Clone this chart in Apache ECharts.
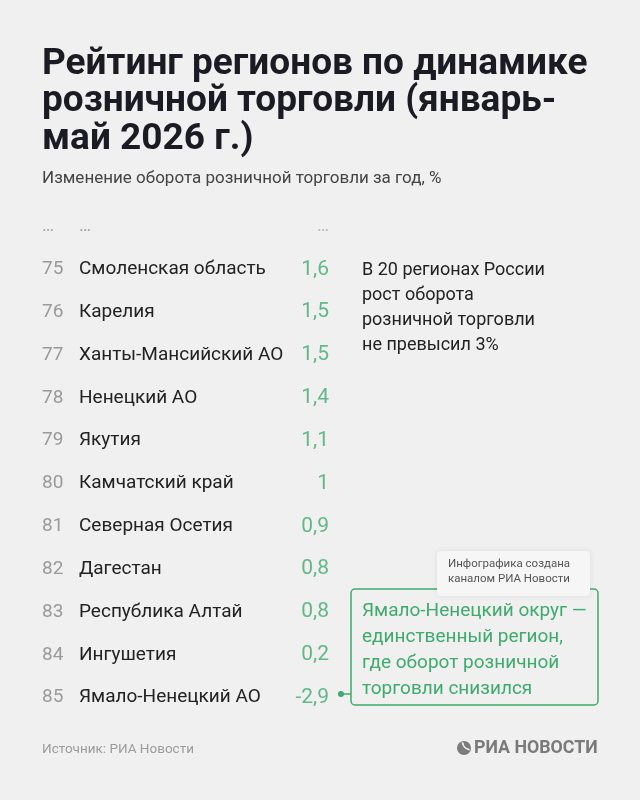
<!DOCTYPE html>
<html>
<head>
<meta charset="utf-8">
<script src="https://cdn.jsdelivr.net/npm/echarts@6/dist/echarts.min.js"></script>
<style>
  html, body { margin: 0; padding: 0; background: #f0f0f0; }
  #chart { width: 640px; height: 800px; }
</style>
</head>
<body>
<div id="chart"></div>
<script>
// данные рейтинга
var ranks = [75, 76, 77, 78, 79, 80, 81, 82, 83, 84, 85];
var regions = ['Смоленская область', 'Карелия', 'Ханты-Мансийский АО', 'Ненецкий АО', 'Якутия',
    'Камчатский край', 'Северная Осетия', 'Дагестан', 'Республика Алтай', 'Ингушетия', 'Ямало-Ненецкий АО'];
var values = [1.6, 1.5, 1.5, 1.4, 1.1, 1, 0.9, 0.8, 0.8, 0.2, -2.9];

var titleLines = ['Рейтинг регионов по динамике', 'розничной торговли (январь-', 'май 2026 г.)'];
var subtitle = 'Изменение оборота розничной торговли за год, %';
var noteLines = ['В 20 регионах России', 'рост оборота', 'розничной торговли', 'не превысил 3%'];
var boxLines = ['Ямало-Ненецкий округ —', 'единственный регион,', 'где оборот розничной', 'торговли снизился'];
var creditLines = ['Инфографика создана', 'каналом РИА Новости'];

var green = '#3eaa6c';
var font = 'Roboto, "Noto Sans", sans-serif';

var chart = echarts.init(document.getElementById('chart'), null, {renderer: 'canvas'});

// строки оси: первая строка — многоточие
var cats = ['…'].concat(regions);
var rankOf = {};
regions.forEach(function(r, i) { rankOf[r] = ranks[i]; });

var points = [[1, '…', null]].concat(regions.map(function(r, i) { return [1, r, values[i]]; }));

var graphics = [];
titleLines.forEach(function(t, i) {
    graphics.push({type: 'text', x: 42, y: 46 + i * 37.5,
        style: {text: t, font: 'bold 37px ' + font, fill: '#1b1b24'}});
});
graphics.push({type: 'text', x: 42, y: 170,
    style: {text: subtitle, font: '17px ' + font, fill: '#444'}});
noteLines.forEach(function(t, i) {
    graphics.push({type: 'text', x: 362, y: 261 + i * 25.3,
        style: {text: t, font: '18px ' + font, fill: '#222'}});
});
// зелёная рамка с пояснением
graphics.push({type: 'rect', shape: {x: 351, y: 589, width: 247, height: 116, r: 4},
    style: {fill: 'none', stroke: green, lineWidth: 1.5}});
boxLines.forEach(function(t, i) {
    graphics.push({type: 'text', x: 362, y: 602 + i * 26,
        style: {text: t, font: '19px ' + font, fill: green}});
});
graphics.push({type: 'line', shape: {x1: 341, y1: 694, x2: 351, y2: 694},
    style: {stroke: green, lineWidth: 1.5}});
graphics.push({type: 'circle', shape: {cx: 341, cy: 694, r: 3}, style: {fill: green}});
// плашка с подписью канала
graphics.push({type: 'rect', shape: {x: 437, y: 551, width: 153, height: 45, r: 4},
    style: {fill: '#f6f6f6', shadowBlur: 6, shadowColor: 'rgba(0,0,0,0.08)'}});
creditLines.forEach(function(t, i) {
    graphics.push({type: 'text', x: 448, y: 558 + i * 15.5,
        style: {text: t, font: '11.5px ' + font, fill: '#555'}});
});
// подвал
graphics.push({type: 'text', x: 42, y: 743,
    style: {text: 'Источник: РИА Новости', font: '13.5px ' + font, fill: '#9b9b9b'}});
graphics.push({type: 'circle', shape: {cx: 464, cy: 748, r: 7}, style: {fill: '#7c7c7c'}});
graphics.push({type: 'arc', shape: {cx: 469, cy: 743, r: 6, startAngle: 1.6, endAngle: 3.2},
    style: {stroke: '#f0f0f0', lineWidth: 1.2, fill: 'none'}});
graphics.push({type: 'arc', shape: {cx: 471, cy: 741, r: 9, startAngle: 1.7, endAngle: 3.0},
    style: {stroke: '#f0f0f0', lineWidth: 1.2, fill: 'none'}});
graphics.push({type: 'text', x: 474, y: 740,
    style: {text: 'РИА НОВОСТИ', font: 'bold 17.8px ' + font, fill: '#7a7a7a'}});

chart.setOption({
    backgroundColor: '#f0f0f0',
    animation: false,
    grid: {left: 42, right: 311, top: 205, bottom: 81},
    xAxis: {type: 'value', min: 0, max: 1, show: false},
    yAxis: {
        type: 'category', data: cats, inverse: true,
        axisLine: {show: false}, axisTick: {show: false},
        axisLabel: {
            align: 'left', margin: 0,
            formatter: function(v) {
                if (v === '…') return '{d|…}{d|…}';
                return '{r|' + rankOf[v] + '}{n|' + v + '}';
            },
            rich: {
                r: {width: 37, fontSize: 19, color: '#9a9a9a', fontFamily: font},
                n: {fontSize: 19, color: '#222', fontFamily: font},
                d: {width: 37, fontSize: 18, color: '#a8a8a8', fontFamily: font}
            }
        }
    },
    series: [{
        type: 'scatter', symbolSize: 0, data: points,
        label: {
            show: true, position: 'left', distance: 0,
            fontSize: 21, fontFamily: font,
            formatter: function(p) {
                var v = p.data[2];
                return v === null ? '{d|…}' : String(v).replace('.', ',');
            },
            rich: {d: {fontSize: 18, color: '#a8a8a8', fontFamily: font}},
            color: green
        }
    }],
    graphic: graphics
});
</script>
</body>
</html>
